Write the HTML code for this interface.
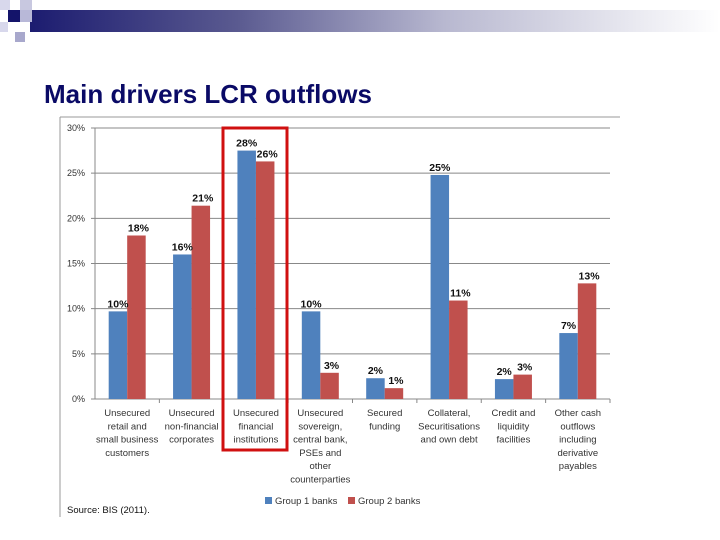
<!DOCTYPE html>
<html><head><meta charset="utf-8"><style>
body{margin:0;width:720px;height:540px;background:#fff;overflow:hidden;font-family:"Liberation Sans",sans-serif;position:relative}
.abs{position:absolute}
</style></head><body>
<div class="abs" style="left:30px;top:10px;width:690px;height:22px;background:linear-gradient(90deg,#1c1c70 0%,#5a5a90 30%,#b8b8d0 60%,#ffffff 100%)"></div>
<div class="abs" style="left:0;top:0;width:10px;height:10px;background:#d8d8ec"></div>
<div class="abs" style="left:20px;top:0;width:12px;height:10px;background:#c8c8e0"></div>
<div class="abs" style="left:8px;top:10px;width:12px;height:12px;background:#14146a"></div>
<div class="abs" style="left:20px;top:10px;width:12px;height:12px;background:#b8b8d8"></div>
<div class="abs" style="left:0;top:22px;width:8px;height:10px;background:#d8d8ec"></div>
<div class="abs" style="left:15px;top:32px;width:10px;height:10px;background:#a8a8cc"></div>
<div class="abs" style="left:44px;top:79px;font-size:26px;font-weight:bold;color:#0a0a66">Main drivers LCR outflows</div>
<svg class="abs" style="left:0;top:0" width="720" height="540">
<g id="g"></g>
</svg>
<script>
const categories=[["Unsecured","retail and","small business","customers"],["Unsecured","non-financial","corporates"],["Unsecured","financial","institutions"],["Unsecured","sovereign,","central bank,","PSEs and","other","counterparties"],["Secured","funding"],["Collateral,","Securitisations","and own debt"],["Credit and","liquidity","facilities"],["Other cash","outflows","including","derivative","payables"]];
const group1=[9.7,16,27.5,9.7,2.3,24.8,2.2,7.3];
const group2=[18.1,21.4,26.3,2.9,1.2,10.9,2.7,12.8];
const labels1=["10%","16%","28%","10%","2%","25%","2%","7%"];
const labels2=["18%","21%","26%","3%","1%","11%","3%","13%"];
const ticks=[0,5,10,15,20,25,30];
const NS="http://www.w3.org/2000/svg";
const g=document.getElementById('g');
const x0=95,x1=610,y0=399,yTop=128;
const y=v=>y0-(v/30)*(y0-yTop);
const cw=(x1-x0)/categories.length;
const cx=i=>x0+cw*(i+0.5);
function mk(t,a,txt){const e=document.createElementNS(NS,t);for(const k in a)e.setAttribute(k,a[k]);if(txt!==undefined)e.textContent=txt;g.appendChild(e);return e;}
let e;
e=mk('path',{d:'M60 117 H620 M60 117 V517',stroke:'#999',fill:'none','stroke-width':1});

ticks.forEach(t=>{
 e=mk('line',{x1:x0-4,x2:x1,y1:y(t),y2:y(t),stroke:'#888','stroke-width':1});
 
 e=mk('text',{x:x0-10,y:y(t)+3,'text-anchor':'end','font-size':9,fill:'#333'},t+'%');
 
});
e=mk('line',{x1:x0,x2:x0,y1:yTop,y2:y0,stroke:'#888'});

const bw=18.5;
categories.forEach((c,i)=>{
 e=mk('line',{x1:x0+cw*(i+1),x2:x0+cw*(i+1),y1:y0,y2:y0+4,stroke:'#888'});
 
 e=mk('rect',{x:cx(i)-bw,y:y(group1[i]),width:bw,height:y0-y(group1[i]),fill:'#4f81bd'});
 
 e=mk('rect',{x:cx(i),y:y(group2[i]),width:bw,height:y0-y(group2[i]),fill:'#c0504d'});
 
 e=mk('text',{x:cx(i)-bw/2,y:y(group1[i])-4,'text-anchor':'middle','font-size':10.5,'font-weight':'bold',fill:'#111'},labels1[i]);
 
 e=mk('text',{x:cx(i)+bw/2+2,y:y(group2[i])-4,'text-anchor':'middle','font-size':10.5,'font-weight':'bold',fill:'#111'},labels2[i]);
 
 c.forEach((ln,j)=>{
  e=mk('text',{x:cx(i),y:y0+17+j*13.3,'text-anchor':'middle','font-size':9.5,fill:'#333'},ln);
  
 });
});
e=mk('rect',{x:223,y:128,width:64,height:322,fill:'none',stroke:'#d01010','stroke-width':3});

e=mk('rect',{x:265,y:497,width:7,height:7,fill:'#4f81bd'});

e=mk('text',{x:275,y:504,'font-size':9.5,fill:'#333'},'Group 1 banks');

e=mk('rect',{x:348,y:497,width:7,height:7,fill:'#c0504d'});

e=mk('text',{x:358,y:504,'font-size':9.5,fill:'#333'},'Group 2 banks');

e=mk('text',{x:67,y:513,'font-size':9.5,fill:'#111'},'Source: BIS (2011).');

</script>
</body></html>
